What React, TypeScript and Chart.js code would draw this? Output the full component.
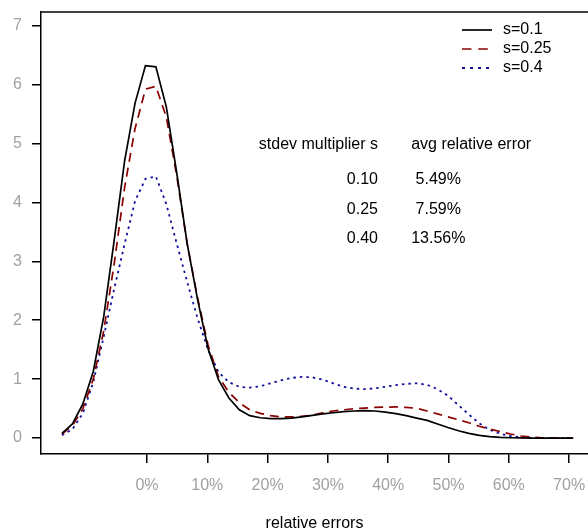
import React, { useEffect, useRef } from "react";
import { Chart, registerables } from "chart.js";

Chart.register(...registerables);

const FONT = "'Liberation Sans', Arial, Helvetica, sans-serif";

// relative error (%) at which the densities are evaluated
const relErrorPct = [
  -14.1, -12.37, -10.64, -8.91, -7.18, -5.45, -3.72, -1.99, -0.26, 1.47,
  3.2, 4.93, 6.66, 8.39, 10.12, 11.85, 13.58, 15.31, 17.04, 18.77,
  20.5, 22.23, 23.96, 25.69, 27.42, 29.15, 30.88, 32.61, 34.34, 36.07,
  37.8, 39.53, 41.26, 42.99, 44.72, 46.45, 48.18, 49.91, 51.64, 53.37,
  55.1, 56.83, 58.56, 60.29, 62.02, 63.75, 65.48, 67.21, 68.94, 70.67,
];

// density, s = 0.1
const densityS010 = [
  0.08, 0.24, 0.58, 1.13, 2.06, 3.35, 4.7, 5.68, 6.32, 6.3,
  5.62, 4.5, 3.3, 2.35, 1.52, 0.99, 0.68, 0.48, 0.38, 0.345,
  0.33, 0.33, 0.34, 0.36, 0.385, 0.41, 0.43, 0.45, 0.46, 0.465,
  0.46, 0.44, 0.415, 0.38, 0.34, 0.3, 0.24, 0.18, 0.125, 0.08,
  0.045, 0.025, 0.012, 0.006, 0.003, 0.001, 0, 0, 0, 0,
];

// density, s = 0.25
const densityS025 = [
  0.07, 0.21, 0.5, 1.0, 1.82, 2.95, 4.25, 5.25, 5.92, 5.97,
  5.45, 4.45, 3.3, 2.38, 1.58, 1.04, 0.78, 0.6, 0.48, 0.42,
  0.38, 0.36, 0.36, 0.37, 0.39, 0.43, 0.46, 0.48, 0.5, 0.51,
  0.52, 0.525, 0.53, 0.52, 0.505, 0.46, 0.41, 0.36, 0.31, 0.26,
  0.2, 0.155, 0.11, 0.07, 0.035, 0.015, 0.005, 0.002, 0, 0,
];

// density, s = 0.4
const densityS040 = [
  0.05, 0.15, 0.42, 0.95, 1.72, 2.53, 3.29, 4.02, 4.4, 4.44,
  3.97, 3.3, 2.65, 2.03, 1.5, 1.12, 0.95, 0.87, 0.855, 0.88,
  0.93, 0.98, 1.02, 1.04, 1.03, 0.99, 0.93, 0.87, 0.84, 0.83,
  0.845, 0.87, 0.9, 0.92, 0.93, 0.905, 0.83, 0.72, 0.56, 0.4,
  0.25, 0.14, 0.075, 0.035, 0.012, 0.004, 0.001, 0, 0, 0,
];

const seriesLabels = ["s=0.1", "s=0.25", "s=0.4"];
const xTickValues = [0, 10, 20, 30, 40, 50, 60, 70];
const yTickValues = [0, 1, 2, 3, 4, 5, 6, 7];
const xAxisTitle = "relative errors";

const tableHeader = ["stdev multiplier s", "avg relative error"];
const tableMultipliers = ["0.10", "0.25", "0.40"];
const tableAvgErrors = [" 5.49%", " 7.59%", "13.56%"];

export default function App() {
  const canvasRef = useRef<HTMLCanvasElement | null>(null);

  useEffect(() => {
    const canvas = canvasRef.current;
    if (!canvas) return;

    const overlay = {
      id: "overlay",
      afterDraw(chart: any) {
        const { ctx, chartArea, scales } = chart;
        ctx.save();
        // top border of the box
        ctx.strokeStyle = "#000";
        ctx.lineWidth = 1.5;
        ctx.beginPath();
        ctx.moveTo(chartArea.left, chartArea.top);
        ctx.lineTo(chartArea.right, chartArea.top);
        ctx.stroke();

        // legend
        ctx.font = `16px ${FONT}`;
        ctx.textBaseline = "middle";
        ctx.textAlign = "left";
        chart.data.datasets.forEach((ds: any, i: number) => {
          const y = chartArea.top + 18 + i * 19;
          ctx.strokeStyle = ds.borderColor;
          ctx.lineWidth = ds.borderWidth;
          ctx.setLineDash(ds.legendDash || []);
          ctx.beginPath();
          ctx.moveTo(chartArea.right - 126, y);
          ctx.lineTo(chartArea.right - 96, y);
          ctx.stroke();
          ctx.setLineDash([]);
          ctx.fillStyle = "#000";
          ctx.fillText(ds.label, chartArea.right - 85, y);
        });

        // table annotation (anchored in data units)
        const xs = scales.x;
        const ys = scales.y;
        const colRight = xs.getPixelForValue(38.3);
        const colLeft = xs.getPixelForValue(43.8);
        ctx.fillStyle = "#000";
        ctx.textAlign = "right";
        ctx.fillText(tableHeader[0], colRight, ys.getPixelForValue(4.98));
        ctx.textAlign = "left";
        ctx.fillText(tableHeader[1], colLeft, ys.getPixelForValue(4.98));
        const rowY = [4.38, 3.88, 3.38];
        tableMultipliers.forEach((m, i) => {
          ctx.textAlign = "right";
          ctx.fillText(m, colRight, ys.getPixelForValue(rowY[i]));
          ctx.textAlign = "left";
          ctx.fillText(tableAvgErrors[i], colLeft, ys.getPixelForValue(rowY[i]));
        });
        ctx.restore();
      },
    };

    const toPts = (ys: number[]) => relErrorPct.map((x, i) => ({ x, y: ys[i] }));

    const chart = new Chart(canvas, {
      type: "line",
      data: {
        datasets: [
          {
            label: seriesLabels[0],
            data: toPts(densityS010),
            borderColor: "#000000",
            borderWidth: 1.7,
            borderDash: [],
            legendDash: [],
            pointRadius: 0,
            tension: 0,
          } as any,
          {
            label: seriesLabels[1],
            data: toPts(densityS025),
            borderColor: "#8B0000",
            borderWidth: 1.7,
            borderDash: [9, 6],
            legendDash: [9.5, 6.8],
            pointRadius: 0,
            tension: 0,
          } as any,
          {
            label: seriesLabels[2],
            data: toPts(densityS040),
            borderColor: "#10109A",
            borderWidth: 1.8,
            borderDash: [2.5, 4],
            legendDash: [3, 5],
            pointRadius: 0,
            tension: 0,
          } as any,
        ],
      },
      options: {
        animation: false,
        responsive: false,
        layout: { padding: { top: 12, left: 0, right: 0, bottom: 0 } },
        plugins: {
          legend: { display: false },
          tooltip: { enabled: false },
        },
        scales: {
          x: {
            type: "linear",
            min: -17.58,
            max: 73.13,
            afterBuildTicks: (scale: any) => {
              scale.ticks = xTickValues.map((v) => ({ value: v }));
            },
            afterFit: (scale: any) => {
              scale.height = 75;
              scale.paddingLeft = 0;
              scale.paddingRight = 0;
            },
            ticks: {
              color: "#a0a0a0",
              font: { family: FONT, size: 16 },
              padding: 13,
              maxRotation: 0,
              autoSkip: false,
              callback: (v: any) => `${v}%`,
            },
            grid: {
              drawOnChartArea: false,
              drawTicks: true,
              tickLength: 9,
              color: "#000",
              lineWidth: 1.5,
            },
            border: { display: true, color: "#000", width: 1.5 },
            title: {
              display: true,
              text: xAxisTitle,
              color: "#000",
              font: { family: FONT, size: 16, lineHeight: 1 },
              padding: { top: 0, bottom: -3 },
            },
          },
          y: {
            type: "linear",
            min: -0.27,
            max: 7.23,
            afterBuildTicks: (scale: any) => {
              scale.ticks = yTickValues.map((v) => ({ value: v }));
            },
            afterFit: (scale: any) => {
              scale.width = 41;
              scale.paddingTop = 0;
              scale.paddingBottom = 0;
            },
            ticks: {
              color: "#a0a0a0",
              font: { family: FONT, size: 16 },
              padding: 10,
              autoSkip: false,
            },
            grid: {
              drawOnChartArea: false,
              drawTicks: true,
              tickLength: 9,
              color: "#000",
              lineWidth: 1.5,
            },
            border: { display: true, color: "#000", width: 1.5 },
          },
        },
      },
      plugins: [overlay],
    });

    return () => {
      chart.destroy();
    };
  }, []);

  return (
    <div style={{ position: "absolute", left: 0, top: 0, width: 588, height: 529, background: "#fff" }}>
      <canvas ref={canvasRef} width={588} height={529} style={{ display: "block" }} />
    </div>
  );
}
